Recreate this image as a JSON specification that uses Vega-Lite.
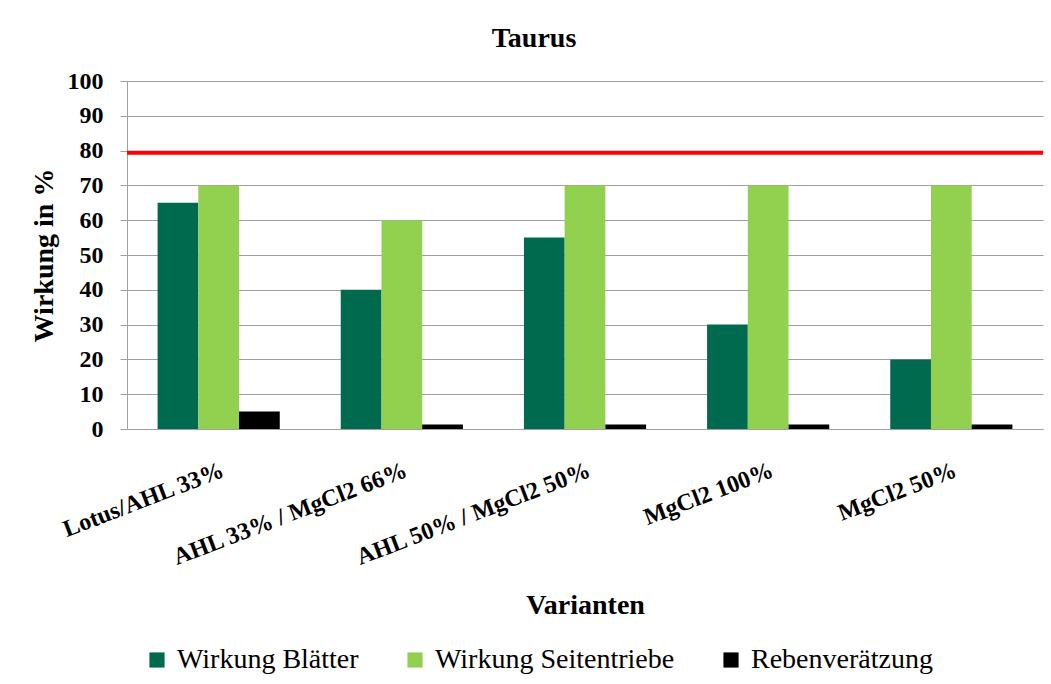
{
  "$schema": "https://vega.github.io/schema/vega-lite/v6.json",
  "width": 916,
  "height": 348,
  "autosize": {"type": "none"},
  "padding": {"left": 127, "top": 81, "right": 8, "bottom": 255},
  "background": "white",
  "config": {
    "font": "Liberation Serif",
    "view": {"stroke": null},
    "axis": {"labelFont": "Liberation Serif", "titleFont": "Liberation Serif"},
    "legend": {"labelFont": "Times New Roman, Liberation Serif, serif", "titleFont": "Liberation Serif"},
    "title": {"font": "Liberation Serif"},
    "style": {"guide-label": {"font": "Liberation Serif"}, "guide-title": {"font": "Liberation Serif"}}
  },
  "title": {"text": "Taurus", "fontSize": 28, "fontWeight": "bold", "font": "Liberation Serif", "color": "black", "anchor": "middle", "dx": -51, "offset": 16},
  "layer": [
    {
      "data": {"values": [
        {"variante": "Lotus/AHL 33%", "serie": "Wirkung Blätter", "wert": 65},
        {"variante": "Lotus/AHL 33%", "serie": "Wirkung Seitentriebe", "wert": 70},
        {"variante": "Lotus/AHL 33%", "serie": "Rebenverätzung", "wert": 5},
        {"variante": "AHL 33% / MgCl2 66%", "serie": "Wirkung Blätter", "wert": 40},
        {"variante": "AHL 33% / MgCl2 66%", "serie": "Wirkung Seitentriebe", "wert": 60},
        {"variante": "AHL 33% / MgCl2 66%", "serie": "Rebenverätzung", "wert": 1.3},
        {"variante": "AHL 50% / MgCl2 50%", "serie": "Wirkung Blätter", "wert": 55},
        {"variante": "AHL 50% / MgCl2 50%", "serie": "Wirkung Seitentriebe", "wert": 70},
        {"variante": "AHL 50% / MgCl2 50%", "serie": "Rebenverätzung", "wert": 1.3},
        {"variante": "MgCl2 100%", "serie": "Wirkung Blätter", "wert": 30},
        {"variante": "MgCl2 100%", "serie": "Wirkung Seitentriebe", "wert": 70},
        {"variante": "MgCl2 100%", "serie": "Rebenverätzung", "wert": 1.3},
        {"variante": "MgCl2 50%", "serie": "Wirkung Blätter", "wert": 20},
        {"variante": "MgCl2 50%", "serie": "Wirkung Seitentriebe", "wert": 70},
        {"variante": "MgCl2 50%", "serie": "Rebenverätzung", "wert": 1.3}
      ]},
      "mark": {"type": "bar"},
      "encoding": {
        "x": {
          "field": "variante", "type": "nominal",
          "sort": ["Lotus/AHL 33%", "AHL 33% / MgCl2 66%", "AHL 50% / MgCl2 50%", "MgCl2 100%", "MgCl2 50%"],
          "scale": {"paddingInner": 0.333, "paddingOuter": 0.167},
          "axis": {
            "title": "Varianten", "titleFontSize": 28, "titleFontWeight": "bold", "titleColor": "black",
            "titleY": 184, "titleBaseline": "alphabetic",
            "labelAngle": -21, "labelAlign": "right", "labelBaseline": "top", "labelPadding": 29,
            "labelFontSize": 24, "labelFontWeight": "bold", "labelColor": "black", "labelLimit": 400, "labelOverlap": false,
            "ticks": false, "domainColor": "#a0a0a0", "grid": false
          }
        },
        "xOffset": {"field": "serie", "type": "nominal", "sort": ["Wirkung Blätter", "Wirkung Seitentriebe", "Rebenverätzung"]},
        "y": {
          "field": "wert", "type": "quantitative",
          "scale": {"domain": [0, 100], "nice": false},
          "axis": {
            "title": "Wirkung in %", "titleFontSize": 28, "titleFontWeight": "bold", "titleColor": "black",
            "titleX": -83, "titleY": 174, "titleAlign": "center", "titleBaseline": "middle", "titleAngle": 270,
            "values": [0, 10, 20, 30, 40, 50, 60, 70, 80, 90, 100], "labelOverlap": false,
            "labelFontSize": 24, "labelFontWeight": "bold", "labelColor": "black", "labelPadding": 17,
            "tickSize": 7, "tickColor": "#a0a0a0", "domainColor": "#a0a0a0", "gridColor": "#a0a0a0", "grid": true
          }
        },
        "color": {
          "field": "serie", "type": "nominal",
          "scale": {"domain": ["Wirkung Blätter", "Wirkung Seitentriebe", "Rebenverätzung"], "range": ["#006a4e", "#92d050", "#000000"]},
          "legend": {
            "title": null, "orient": "none", "legendX": 16, "legendY": 565, "direction": "horizontal",
            "symbolType": "square", "symbolSize": 230, "symbolStrokeWidth": 0,
            "labelFontSize": 28, "labelFont": "Times New Roman, Liberation Serif, serif", "labelFontWeight": "normal", "labelColor": "black", "labelLimit": 400,
            "labelOffset": 6, "columnPadding": 42
          }
        }
      }
    },
    {
      "data": {"values": [{"grenze": 79.4}]},
      "mark": {"type": "rule", "color": "#ff0000", "strokeWidth": 4},
      "encoding": {
        "y": {
          "field": "grenze", "type": "quantitative",
          "axis": {
            "title": "Wirkung in %", "titleFontSize": 28, "titleFontWeight": "bold", "titleColor": "black",
            "titleX": -83, "titleY": 174, "titleAlign": "center", "titleBaseline": "middle", "titleAngle": 270,
            "values": [0, 10, 20, 30, 40, 50, 60, 70, 80, 90, 100], "labelOverlap": false,
            "labelFontSize": 24, "labelFontWeight": "bold", "labelColor": "black", "labelPadding": 17,
            "tickSize": 7, "tickColor": "#a0a0a0", "domainColor": "#a0a0a0", "gridColor": "#a0a0a0", "grid": true
          }
        }
      }
    }
  ]
}
